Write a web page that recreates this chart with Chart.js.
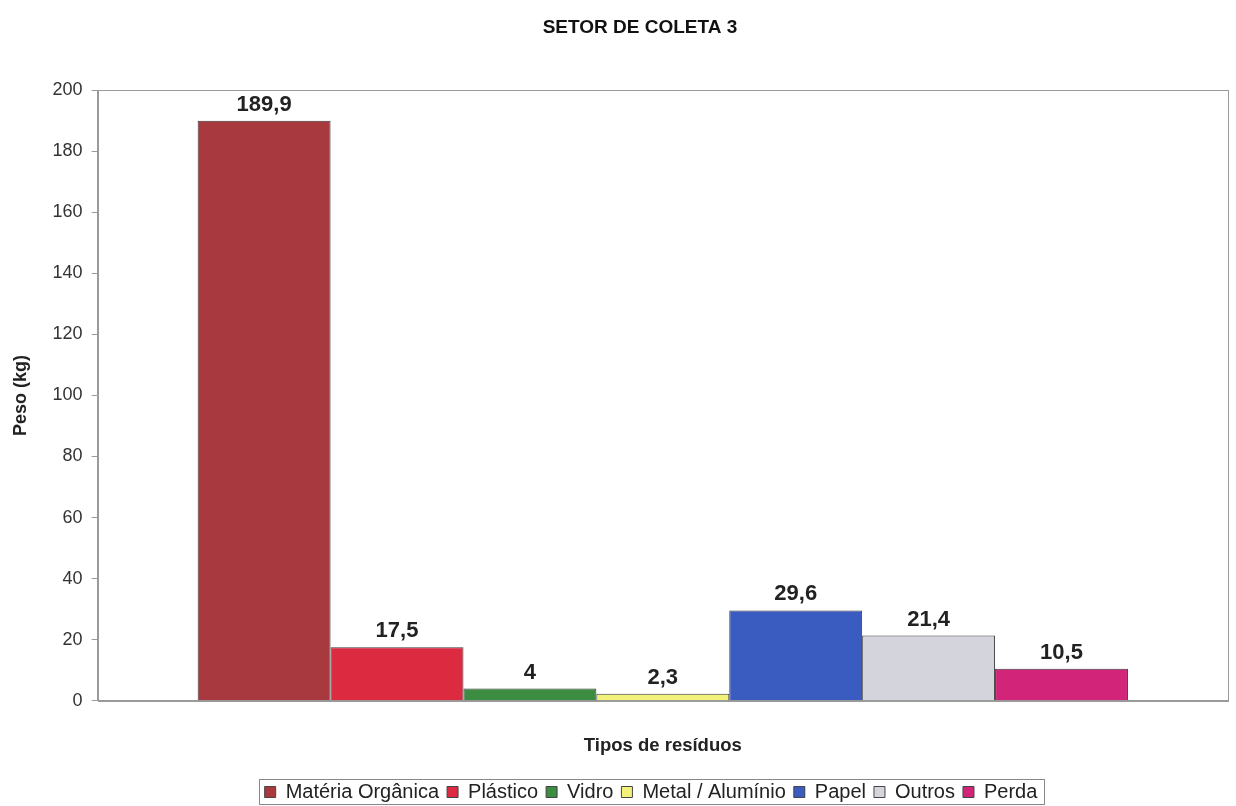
<!DOCTYPE html>
<html>
<head>
<meta charset="utf-8">
<script src="https://cdn.jsdelivr.net/npm/chart.js@4/dist/chart.umd.min.js"></script>
<style>
  html, body { margin: 0; padding: 0; background: #fff; }
  #wrap { width: 1236px; height: 806px; }
</style>
</head>
<body>
<div id="wrap"><canvas id="chart"></canvas></div>
<script>
const TITLE = "SETOR DE COLETA 3";
const categories = [""];
const seriesNames = ["Matéria Orgânica", "Plástico", "Vidro", "Metal / Alumínio", "Papel", "Outros", "Perda"];
const seriesValues = [189.9, 17.5, 4, 2.3, 29.6, 21.4, 10.5];
const seriesColors = ["#a8393f", "#dc2a40", "#3c8c42", "#f2f27a", "#3a5cc0", "#d4d4dc", "#d2257a"];
const yTicks = [0, 20, 40, 60, 80, 100, 120, 140, 160, 180, 200];

const FONT = "'Liberation Sans', Arial, sans-serif";

function fmt(v) {
  return String(v).replace(".", ",");
}

const extras = {
  id: "extras",
  afterLayout(chart) {
    // legend sits a little right of the page centre and lower in the original
    const lg = chart.legend;
    lg.left += 32;
    lg.right += 32;
    lg.top += 8;
    lg.bottom += 8;
  },
  afterDraw(chart) {
    const ctx = chart.ctx;
    const area = chart.chartArea;
    ctx.save();
    // frame round the plot area
    ctx.strokeStyle = "#9a9a9a";
    ctx.lineWidth = 1;
    ctx.strokeRect(Math.round(area.left) + 0.5, Math.round(area.top) + 0.5,
      Math.round(area.right - area.left), Math.round(area.bottom - area.top));

    // title
    ctx.fillStyle = "#111";
    ctx.font = "bold 19px " + FONT;
    ctx.textAlign = "center";
    ctx.textBaseline = "middle";
    ctx.fillText(TITLE, 640, 28);

    // value labels
    ctx.font = "bold 22px " + FONT;
    ctx.fillStyle = "#222";
    ctx.textBaseline = "bottom";
    chart.data.datasets.forEach((ds, i) => {
      const bar = chart.getDatasetMeta(i).data[0];
      ctx.fillText(fmt(ds.data[0]), bar.x, bar.y - 5);
    });

    // legend border
    const boxes = chart.legend.legendHitBoxes;
    if (boxes && boxes.length) {
      let l = Infinity, r = -Infinity, t = Infinity, b = -Infinity;
      boxes.forEach((h) => {
        l = Math.min(l, h.left); r = Math.max(r, h.left + h.width);
        t = Math.min(t, h.top); b = Math.max(b, h.top + h.height);
      });
      ctx.strokeStyle = "#888";
      ctx.strokeRect(Math.round(l - 6) + 0.5, Math.round(t - 3) + 0.5, Math.round(r - l + 12), Math.round(b - t + 5));
    }
    ctx.restore();
  }
};

new Chart(document.getElementById("chart"), {
  type: "bar",
  data: {
    labels: categories,
    datasets: seriesNames.map((name, i) => ({
      label: name,
      data: [seriesValues[i]],
      backgroundColor: seriesColors[i],
      borderColor: "#3a3a3a",
      borderWidth: 1,
      categoryPercentage: 0.823,
      barPercentage: 1.0
    }))
  },
  options: {
    responsive: true,
    maintainAspectRatio: false,
    animation: false,
    layout: {padding: {top: 90, right: 8, bottom: 2, left: 10}},
    plugins: {
      title: {display: false},
      tooltip: {enabled: false},
      legend: {
        position: "bottom",
        labels: {
          font: {family: FONT, size: 20},
          color: "#222",
          boxWidth: 11,
          boxHeight: 11,
          padding: 8,
          generateLabels(chart) {
            return chart.data.datasets.map((ds, i) => ({
              text: ds.label,
              fillStyle: ds.backgroundColor,
              strokeStyle: "#444",
              lineWidth: 1,
              datasetIndex: i,
              fontColor: "#222"
            }));
          }
        }
      }
    },
    scales: {
      x: {
        grid: {display: false},
        border: {display: true, color: "#9a9a9a"},
        ticks: {display: false},
        title: {
          display: true,
          text: "Tipos de resíduos",
          color: "#222",
          font: {family: FONT, size: 18.5, weight: "bold"},
          padding: {top: 26, bottom: 9}
        }
      },
      y: {
        min: 0,
        max: 200,
        afterBuildTicks(axis) {
          axis.ticks = yTicks.map((v) => ({value: v}));
        },
        grid: {drawOnChartArea: false, drawTicks: true, tickLength: 6, color: "#9a9a9a"},
        border: {display: true, color: "#9a9a9a"},
        ticks: {
          color: "#333",
          font: {family: FONT, size: 18},
          padding: 9
        },
        title: {
          display: true,
          text: "Peso (kg)",
          color: "#222",
          font: {family: FONT, size: 18, weight: "bold"},
          padding: {top: 0, bottom: 12}
        }
      }
    }
  },
  plugins: [extras]
});
</script>
</body>
</html>
